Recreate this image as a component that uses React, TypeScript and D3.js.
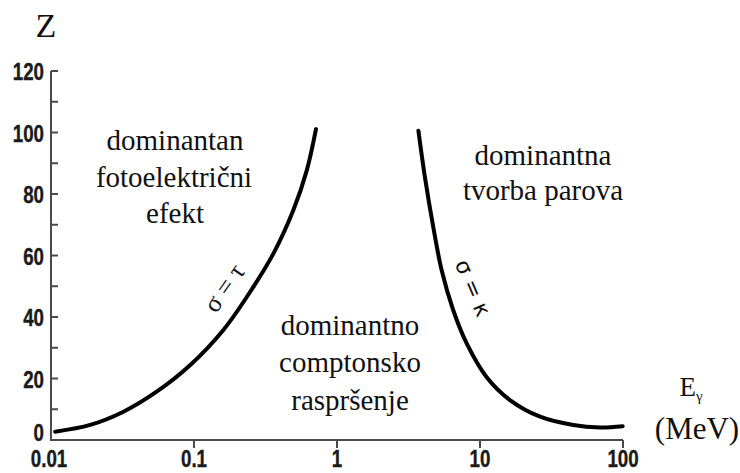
import React from "react";
import * as d3 from "d3";

const yMajorTicks = [0, 20, 40, 60, 80, 100, 120];
const yMinorTicks = [10, 30, 50, 70, 90, 110];
const xTicks = [0.01, 0.1, 1, 10, 100];
const xTickLabels = ["0.01", "0.1", "1", "10", "100"];

// σ = τ boundary (photoelectric / Compton)
const tauE = [0.0107, 0.0188, 0.0321, 0.0548, 0.0938, 0.16, 0.234, 0.359, 0.494, 0.614, 0.713];
const tauZ = [2.7, 4.9, 9.2, 15.7, 24.3, 35.7, 46.5, 60.6, 74.6, 87.6, 101.1];

// σ = κ boundary (Compton / pair production)
const kappaE = [3.71, 4.12, 4.71, 5.4, 6.5, 8.07, 11.1, 16.2, 26.3, 44.9, 69.0, 99.5];
const kappaZ = [100.6, 85.5, 69.3, 55.1, 42.2, 31.4, 20.5, 13.0, 7.6, 4.9, 4.1, 4.5];

const W = 740;
const H = 473;

const SERIF = "'Liberation Serif', 'DejaVu Serif', 'Times New Roman', serif";
const SANS = "'Liberation Sans', Arial, sans-serif";

export default function App() {
  const x = d3.scaleLog().domain([0.01, 100]).range([51, 623]);
  const y = d3.scaleLinear().domain([0, 120]).range([440, 71]);

  const line = d3
    .line<[number, number]>()
    .x((d) => x(d[0]))
    .y((d) => y(d[1]))
    .curve(d3.curveCatmullRom.alpha(0.5));

  const tauPts: [number, number][] = tauE.map((e, i) => [e, tauZ[i]]);
  const kapPts: [number, number][] = kappaE.map((e, i) => [e, kappaZ[i]]);

  const axisColor = "#4a4a4a";
  const x0 = x(0.01);
  const x1 = x(100);
  const yBase = y(0);
  const yTop = y(120);

  const tickStyle: React.CSSProperties = {
    fontFamily: SANS,
    fontWeight: 700,
    fontSize: 24,
    fill: "#1a1a1a",
    stroke: "#1a1a1a",
    strokeWidth: 0.4,
  };
  const serifStyle = (size: number): React.CSSProperties => ({
    fontFamily: SERIF,
    fontSize: size,
    fill: "#111",
  });

  const regionLabels: { t: string; x: number; y: number }[] = [
    { t: "dominantan", x: 175, y: 150 },
    { t: "fotoelektrični", x: 174, y: 187 },
    { t: "efekt", x: 175, y: 223 },
    { t: "dominantna", x: 543, y: 165 },
    { t: "tvorba parova", x: 543, y: 200 },
    { t: "dominantno", x: 350, y: 335 },
    { t: "comptonsko", x: 350, y: 372 },
    { t: "raspršenje", x: 350, y: 410 },
  ];

  return (
    <svg
      width={W}
      height={H}
      style={{ position: "absolute", left: 0, top: 0, background: "#fff" }}
    >
      {/* axes */}
      <g stroke={axisColor} strokeWidth={2} fill="none">
        <line x1={x0} x2={x0} y1={yTop} y2={yBase + 1} />
        <line x1={x0 - 1} x2={x1} y1={yBase} y2={yBase} />
        {yMajorTicks.concat(yMinorTicks).map((t) => (
          <line key={"yt" + t} x1={x0} x2={x0 + 7} y1={y(t)} y2={y(t)} />
        ))}
        {xTicks.slice(1).map((t) => (
          <line key={"xt" + t} x1={x(t)} x2={x(t)} y1={yBase} y2={yBase + 8} />
        ))}
      </g>

      {/* y tick labels (condensed) */}
      {yMajorTicks.map((t) => (
        <text
          key={"yl" + t}
          transform={`translate(44,${y(t) + (t === 0 ? 1 : 9)}) scale(0.78,1)`}
          textAnchor="end"
          style={tickStyle}
        >
          {t}
        </text>
      ))}

      {/* x tick labels (condensed) */}
      {xTicks.map((t, i) => (
        <text
          key={"xl" + t}
          transform={`translate(${x(t) - (i === 0 ? 2 : 0)},467) scale(0.78,1)`}
          textAnchor="middle"
          style={tickStyle}
        >
          {xTickLabels[i]}
        </text>
      ))}

      {/* curves */}
      <path d={line(tauPts) || ""} fill="none" stroke="#000" strokeWidth={4} strokeLinecap="round" />
      <path d={line(kapPts) || ""} fill="none" stroke="#000" strokeWidth={4} strokeLinecap="round" />

      {/* axis titles */}
      <text x={46} y={37} textAnchor="middle" style={serifStyle(34)}>
        Z
      </text>
      <text x={691} y={396} textAnchor="middle" style={serifStyle(27)}>
        E
        <tspan dy={5} style={{ fontSize: 15 }}>γ</tspan>
      </text>
      <text x={697} y={439} textAnchor="middle" style={serifStyle(31)}>
        (MeV)
      </text>

      {/* region labels */}
      {regionLabels.map((r) => (
        <text key={r.t} x={r.x} y={r.y} textAnchor="middle" style={serifStyle(29)}>
          {r.t}
        </text>
      ))}

      {/* curve labels */}
      <text
        transform="translate(224,288) rotate(-55)"
        textAnchor="middle"
        dominantBaseline="central"
        style={serifStyle(26)}
      >
        σ = τ
      </text>
      <text
        transform="translate(473,288) rotate(67)"
        textAnchor="middle"
        dominantBaseline="central"
        style={{ fontFamily: "'DejaVu Sans', sans-serif", fontSize: 22, fill: "#111" }}
      >
        σ = κ
      </text>
    </svg>
  );
}
